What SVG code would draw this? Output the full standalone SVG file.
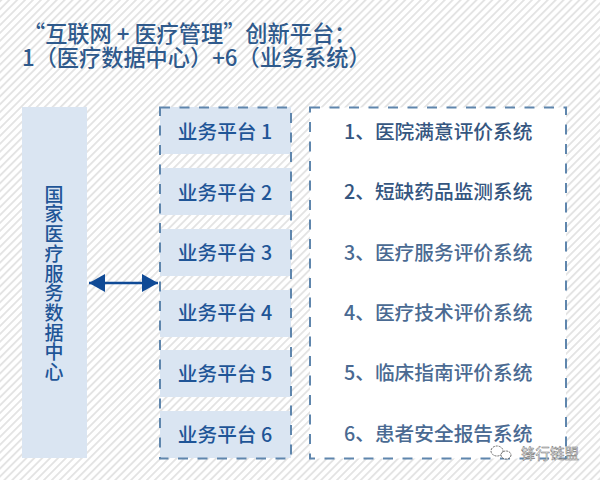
<svg xmlns="http://www.w3.org/2000/svg" width="600" height="480" viewBox="0 0 600 480">
<style>
text{font-family:"Noto Sans CJK SC","Noto Sans",sans-serif}
.t{font-size:22.2px;font-weight:500;fill:#2f5a8c}
.p{fill:#dae5f2}
.pt{font-size:19.700px;font-weight:500;fill:#1f5597;text-anchor:middle}
.st{font-size:19.700px;font-weight:500;fill:#35567f}
.sl{fill:#4a6a92}
.d{fill:none;stroke:#5f86ad;stroke-width:2;stroke-dasharray:10 9.500}
</style>
<defs>
<pattern id="h" width="5.600" height="8" patternUnits="userSpaceOnUse" patternTransform="rotate(45)">
<rect width="5.600" height="8" fill="#fff"/><rect width="1.800" height="8" fill="#e3e3e3"/>
</pattern>
<marker id="a" viewBox="0 0 16 18" refX="16" refY="9" markerWidth="16" markerHeight="18" markerUnits="userSpaceOnUse" orient="auto-start-reverse"><path d="M0 0L16 9L0 18Z" fill="#0f4a96"/></marker>
</defs>
<rect width="600" height="480" fill="url(#h)"/>
<text class="t"><tspan x="23" y="42">“互联网 + 医疗管理”创新平台：</tspan><tspan x="22" y="66">1（医疗数据中心）+6（业务系统）</tspan></text>
<g id="center">
<rect x="22" y="107" width="65" height="351" class="p"/>
<text x="54" y="185" font-size="19" font-weight="500" fill="#1f5597" letter-spacing=".7" style="writing-mode:vertical-rl">国家医疗服务数据中心</text>
</g>
<g id="platforms">
<g id="p1"><rect x="160" y="107" width="131" height="47" class="p"/><text class="pt" x="225" y="139">业务平台 1</text></g>
<g id="p2"><rect x="160" y="168" width="131" height="47" class="p"/><text class="pt" x="225" y="200">业务平台 2</text></g>
<g id="p3"><rect x="160" y="229" width="131" height="47" class="p"/><text class="pt" x="225" y="260">业务平台 3</text></g>
<g id="p4"><rect x="160" y="290" width="131" height="47" class="p"/><text class="pt" x="225" y="320">业务平台 4</text></g>
<g id="p5"><rect x="160" y="350" width="131" height="47" class="p"/><text class="pt" x="225" y="381">业务平台 5</text></g>
<g id="p6"><rect x="160" y="411" width="131" height="47" class="p"/><text class="pt" x="225" y="442">业务平台 6</text></g>
<rect x="160" y="107.500" width="131" height="351" class="d"/>
</g>
<g id="systems">
<rect x="310" y="107.500" width="256" height="351" fill="#fff"/>
<rect x="310" y="107.500" width="256" height="351" class="d"/>
<text class="st" x="344" y="139">1、医院满意评价系统</text>
<text class="st" x="344" y="199">2、短缺药品监测系统</text>
<text class="st sl" x="344" y="260">3、医疗服务评价系统</text>
<text class="st sl" x="344" y="320">4、医疗技术评价系统</text>
<text class="st sl" x="344" y="380">5、临床指南评价系统</text>
<text class="st sl" x="344" y="441">6、患者安全报告系统</text>
</g>
<g id="connectors">
<line x1="89" y1="283" x2="158" y2="283" stroke="#0f4a96" stroke-width="2.500" marker-start="url(#a)" marker-end="url(#a)"/>
</g>
<g id="watermark">
<text x="521" y="459" font-size="14.500" fill="#fff" stroke="#777" stroke-width=".5">锋行链盟</text>
<g fill="#fff" stroke="#666" stroke-width="1" stroke-dasharray="2 1">
<ellipse cx="497" cy="451" rx="6" ry="5"/><ellipse cx="506" cy="455" rx="5" ry="4"/>
</g>
</g>
</svg>
